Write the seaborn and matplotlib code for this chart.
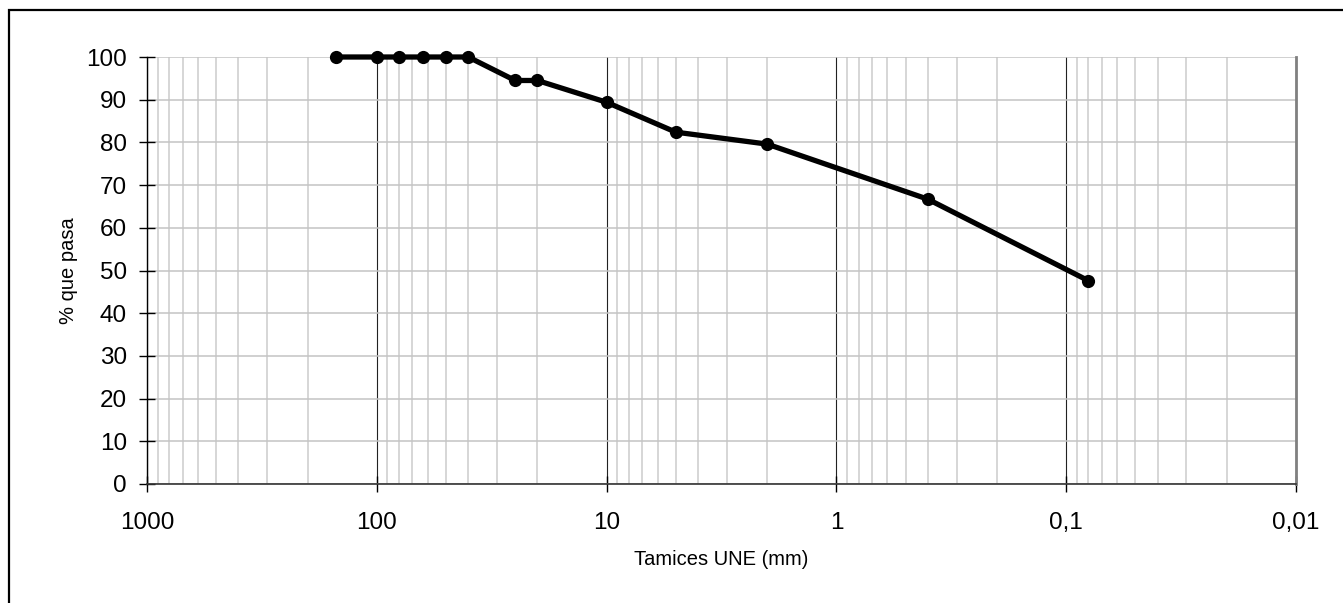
import numpy as np
import pandas as pd
import matplotlib
matplotlib.use('Agg')
import matplotlib.pyplot as plt
from matplotlib.ticker import FixedLocator, LogLocator, NullFormatter
from matplotlib.patches import Rectangle
import seaborn as sns

# Sieve sizes (mm) and cumulative percent passing
sizes = [150, 100, 80, 63, 50, 40, 25, 20, 10, 5, 2, 0.4, 0.08]
passing = [100, 100, 100, 100, 100, 100, 94.5, 94.5, 89.4, 82.4, 79.6, 66.7, 47.6]

x_ticks = [1000, 100, 10, 1, 0.1, 0.01]
x_tick_labels = ['1000', '100', '10', '1', '0,1', '0,01']
y_ticks = list(range(0, 101, 10))

df = pd.DataFrame({'tamiz': sizes, 'pasa': passing})

sns.set_style('white')
plt.rcParams['font.family'] = ['Liberation Sans', 'DejaVu Sans']
plt.rcParams['text.color'] = 'black'
plt.rcParams['axes.labelcolor'] = 'black'
plt.rcParams['xtick.color'] = 'black'
plt.rcParams['ytick.color'] = 'black'

fig = plt.figure(figsize=(13.43, 6.03), dpi=100)
ax = fig.add_axes([147 / 1343, 1 - 484 / 603, 1149 / 1343, 427 / 603])

# outer frame of the figure (cut off on the right and bottom)
fig.patches.append(Rectangle((9 / 1343, -0.05), 1.1, 0.9834 + 0.05,
                             transform=fig.transFigure, fill=False,
                             edgecolor='black', linewidth=1.6, zorder=0))

ax.set_xscale('log')
sns.lineplot(data=df, x='tamiz', y='pasa', sort=False, ax=ax, color='black',
             linewidth=3.8, marker='o', markersize=9.5, markeredgewidth=0,
             clip_on=False, zorder=5)

ax.set_xlim(1000, 0.01)
ax.set_ylim(0, 100)

ax.xaxis.set_major_locator(FixedLocator(x_ticks))
ax.set_xticklabels(x_tick_labels)
ax.xaxis.set_minor_locator(LogLocator(base=10, subs=range(2, 10), numticks=50))
ax.xaxis.set_minor_formatter(NullFormatter())
ax.set_yticks(y_ticks)

# grid
ax.grid(False)
ax.xaxis.grid(True, which='major', color='#222222', linewidth=0.8, zorder=1)
ax.xaxis.grid(True, which='minor', color='#cccccc', linewidth=1.1, zorder=1)
ax.yaxis.grid(True, which='major', color='#c4c4c4', linewidth=1.1, zorder=1)
ax.set_axisbelow(True)

ax.tick_params(axis='y', which='major', left=True, direction='inout', length=12,
               width=1, color='black', labelcolor='black', labelsize=17.5, pad=8.5)
ax.tick_params(axis='x', which='major', bottom=True, direction='inout', length=12,
               width=1, color='black', labelcolor='black', labelsize=17.5, pad=14)
ax.tick_params(axis='x', which='minor', length=0)

ax.spines['top'].set_visible(False)
ax.spines['right'].set_color('#808080')
ax.spines['right'].set_linewidth(2)
ax.spines['left'].set_color('black')
ax.spines['left'].set_linewidth(1)
ax.spines['bottom'].set_color('#333333')
ax.spines['bottom'].set_linewidth(1.2)

ax.set_xlabel('Tamices UNE (mm)', fontsize=14.5, labelpad=12, color='black')
ax.set_ylabel('% que pasa', fontsize=14.5, labelpad=6, color='black')

fig.savefig('out.png', dpi=100)
